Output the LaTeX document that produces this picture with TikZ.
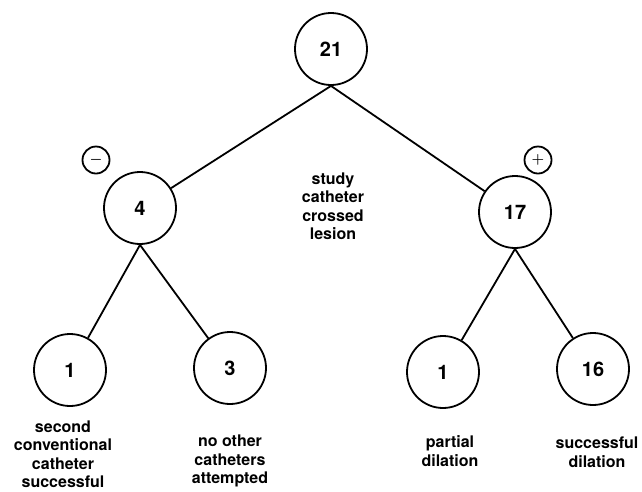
\documentclass[tikz,border=0pt]{standalone}
\usepackage{fontspec}
\setmainfont{TeX Gyre Heros}
\begin{document}
\begin{tikzpicture}[x=1pt,y=-1pt,
  count/.style={circle,draw,line width=1.8pt,minimum size=72pt,inner sep=0pt,font=\fontsize{20}{20}\bfseries},
  sign/.style={circle,draw,line width=1.8pt,minimum size=27pt,inner sep=0pt,font=\Large\boldmath},
  note/.style={align=center,font=\fontsize{16}{18.5}\bfseries},
  branch/.style={line width=1.8pt}]
\useasboundingbox (0,0) rectangle (642,491);
% counts
\node[count] (total) at (331,49) {21};
\node[count] (neg) at (140,208) {4};
\node[count] (pos) at (515,212) {17};
\node[count] (second) at (70,370) {1};
\node[count] (none) at (230,368) {3};
\node[count] (partial) at (443,372) {1};
\node[count] (success) at (593,369) {16};
% signs
\node[sign] (minus) at (96,160) {$-$};
\node[sign] (plus) at (538,160) {$+$};
% branches
\draw[branch] (total.south) -- (neg);
\draw[branch] (total.south) -- (pos);
\draw[branch] (neg.south) -- (second);
\draw[branch] (neg.south) -- (none);
\draw[branch] (pos.south) -- (partial);
\draw[branch] (pos.south) -- (success);
% labels
\node[note] (crossed) at (333,206) {study\\catheter\\crossed\\lesion};
\node[note] (secondtxt) at (63,454) {second\\conventional\\catheter\\successful};
\node[note] (nonetxt) at (230,461) {no other\\catheters\\attempted};
\node[note] (partialtxt) at (450,451) {partial\\dilation};
\node[note] (successtxt) at (597,452) {successful\\dilation};
\end{tikzpicture}
\end{document}
